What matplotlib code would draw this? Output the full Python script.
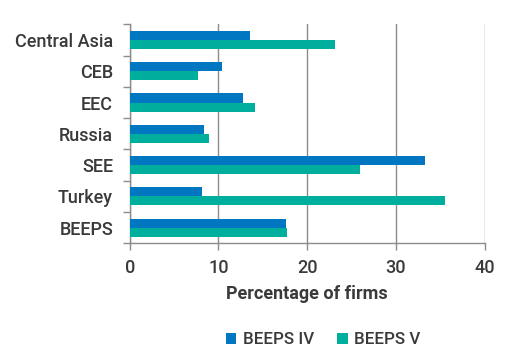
import matplotlib
matplotlib.use("Agg")
import matplotlib.pyplot as plt
import numpy as np

categories = ["Central Asia", "CEB", "EEC", "Russia", "SEE", "Turkey", "BEEPS"]
beeps_iv = [13.5, 10.4, 12.8, 8.4, 33.3, 8.2, 17.6]
beeps_v = [23.1, 7.7, 14.1, 8.9, 26.0, 35.5, 17.7]
xticks = [0, 10, 20, 30, 40]

plt.rcParams['font.family'] = ['Roboto', 'DejaVu Sans']
txt = '#3a3a3a'
grid = '#8c8c8c'

fig = plt.figure(figsize=(5.08, 3.54), dpi=100)
ax = fig.add_axes([0.2553, 0.3127, 0.6988, 0.6186])

y = np.arange(len(categories))
h = 0.29
ax.barh(y - h/2, beeps_iv, height=h, color='#0077C0', label='BEEPS IV', zorder=3)
ax.barh(y + h/2, beeps_v, height=h, color='#00AE9E', label='BEEPS V', zorder=3)

ax.set_xlim(0, 40)
ax.set_ylim(len(categories) - 0.5, -0.5)
ax.set_xticks(xticks)
ax.set_xticklabels([str(t) for t in xticks], fontsize=13, color=txt, fontweight='medium')
ax.set_yticks(np.arange(-0.5, len(categories), 1.0))
ax.set_yticklabels([])
ax.set_yticks(y, minor=True)
ax.set_yticklabels(categories, minor=True, fontsize=13, color=txt, fontweight='medium')
ax.tick_params(axis='y', which='minor', length=0, pad=12)
ax.tick_params(axis='y', which='major', length=5, color=grid, width=1)
ax.tick_params(axis='x', length=5, color=grid, width=1, pad=6)

ax.grid(axis='x', color=grid, linewidth=1, zorder=0)
for s in ['top', 'right']:
    ax.spines[s].set_visible(False)
for s in ['left', 'bottom']:
    ax.spines[s].set_color(grid)
    ax.spines[s].set_linewidth(1)

ax.set_xlabel('Percentage of firms', fontsize=13, fontweight='bold', color=txt, labelpad=6)

leg = fig.legend(loc='center', bbox_to_anchor=(0.636, 0.04), ncol=2, frameon=False,
                 prop={'size': 12.2, 'weight': 'medium'}, handlelength=0.6, handleheight=0.6,
                 handletextpad=0.4, columnspacing=1.4)
for t in leg.get_texts():
    t.set_color(txt)

fig.savefig('out.png', dpi=100)
